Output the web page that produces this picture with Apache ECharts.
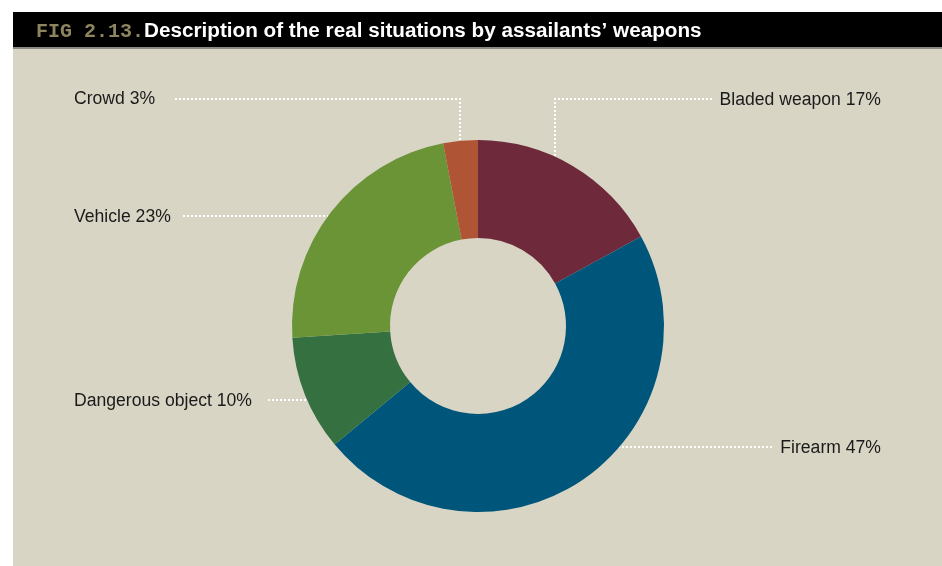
<!DOCTYPE html>
<html>
<head>
<meta charset="utf-8">
<script src="https://cdn.jsdelivr.net/npm/echarts@6/dist/echarts.min.js"></script>
<style>
  html, body { margin: 0; padding: 0; background: #ffffff; }
  #chart { width: 942px; height: 566px; }
</style>
</head>
<body>
<div id="chart"></div>
<script>
// ---- data ----
var categories = ['Bladed weapon', 'Firearm', 'Dangerous object', 'Vehicle', 'Crowd'];
var values = [17, 47, 10, 23, 3];
var figLabel = 'FIG 2.13.';
var titleText = 'Description of the real situations by assailants\u2019 weapons';

// ---- style ----
var colors = ['#6e293b', '#00557a', '#357040', '#6a9436', '#b05436'];
var CX = 478, CY = 326, R_IN = 88, R_OUT = 186;

function edgeYAtX(x) { return CY - Math.sqrt(R_OUT * R_OUT - (x - CX) * (x - CX)); }
function edgeXAtY(y, side) { return CX + side * Math.sqrt(R_OUT * R_OUT - (y - CY) * (y - CY)); }

// label placement (layout only)
var labelPlaces = [
  { x: 881, y: 100, align: 'right', line: function () { return [[712, 99], [555, 99], [555, edgeYAtX(555)]]; } },
  { x: 881, y: 448, align: 'right', line: function () { return [[772, 447], [edgeXAtY(447, 1), 447]]; } },
  { x: 74,  y: 401, align: 'left',  line: function () { return [[268, 400], [edgeXAtY(400, -1), 400]]; } },
  { x: 74,  y: 217, align: 'left',  line: function () { return [[183, 216], [edgeXAtY(216, -1), 216]]; } },
  { x: 74,  y: 99,  align: 'left',  line: function () { return [[175, 99], [460, 99], [460, edgeYAtX(460)]]; } }
];

var chart = echarts.init(document.getElementById('chart'), null, { renderer: 'canvas' });

var option = {
  backgroundColor: '#ffffff',
  animation: false,
  graphic: [
    { type: 'rect', silent: true, z: -10, shape: { x: 13, y: 12, width: 929, height: 36 }, style: { fill: '#000000' } },
    { type: 'rect', silent: true, z: -10, shape: { x: 13, y: 47, width: 929, height: 2 }, style: { fill: '#8a8a84' } },
    { type: 'rect', silent: true, z: -10, shape: { x: 13, y: 49, width: 929, height: 517 }, style: { fill: '#d8d5c5' } }
  ],
  title: {
    left: 36,
    top: 21,
    padding: 0,
    text: '{fig|' + figLabel + '}{main|' + titleText + '}',
    textStyle: {
      rich: {
        fig: { fontFamily: 'Liberation Mono', fontWeight: 'bold', fontSize: 20, color: '#8c855e' },
        main: { fontFamily: 'Liberation Sans', fontWeight: 'bold', fontSize: 20.7, color: '#ffffff' }
      }
    }
  },
  series: [{
    type: 'pie',
    center: [CX, CY],
    radius: [R_IN, R_OUT],
    startAngle: 90,
    clockwise: true,
    avoidLabelOverlap: false,
    itemStyle: { borderWidth: 0 },
    label: {
      show: true,
      position: 'outside',
      formatter: '{b} {c}%',
      fontFamily: 'Liberation Sans',
      fontSize: 17.6,
      color: '#1a1a1a'
    },
    labelLine: {
      show: true,
      smooth: false,
      lineStyle: { color: '#ffffff', width: 2, type: [2, 2] }
    },
    labelLayout: function (params) {
      var p = labelPlaces[params.dataIndex];
      return {
        x: p.x,
        y: p.y,
        align: p.align,
        verticalAlign: 'middle',
        labelLinePoints: p.line()
      };
    },
    emphasis: { disabled: true },
    data: categories.map(function (c, i) {
      return { name: c, value: values[i], itemStyle: { color: colors[i] } };
    })
  }]
};
chart.setOption(option);
</script>
</body>
</html>
